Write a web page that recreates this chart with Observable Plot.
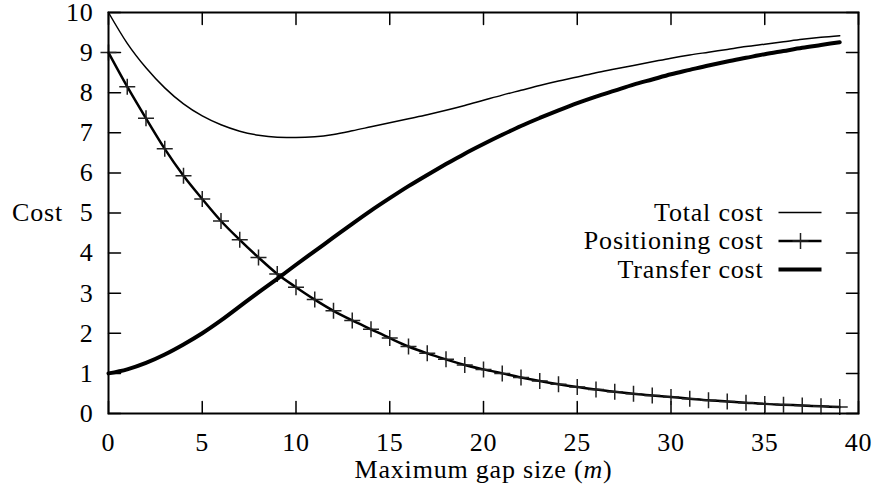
<!DOCTYPE html>
<html>
<head>
<meta charset="utf-8">
<script src="https://cdn.jsdelivr.net/npm/d3@7"></script>
<script src="https://cdn.jsdelivr.net/npm/@observablehq/plot@0.6"></script>
<style>
  html, body { margin: 0; padding: 0; background: #fff; }
  #chart svg { display: block; }
</style>
</head>
<body>
<div id="chart"></div>
<script>
// Cost model versus maximum gap size m (one sample per integer m)
const gapSize = [0, 1, 2, 3, 4, 5, 6, 7, 8, 9, 10, 11, 12, 13, 14, 15, 16, 17, 18, 19,
                 20, 21, 22, 23, 24, 25, 26, 27, 28, 29, 30, 31, 32, 33, 34, 35, 36, 37, 38, 39];
const positioningCost = [9.0, 8.15, 7.36, 6.6, 5.93, 5.35, 4.8, 4.33, 3.89, 3.48,
                         3.15, 2.84, 2.56, 2.32, 2.1, 1.88, 1.67, 1.5, 1.35, 1.21,
                         1.1, 1.0, 0.9, 0.81, 0.73, 0.66, 0.6, 0.54, 0.49, 0.45,
                         0.41, 0.37, 0.33, 0.3, 0.27, 0.24, 0.22, 0.2, 0.18, 0.16];
const transferCost = [1.0, 1.1, 1.26, 1.47, 1.72, 2.0, 2.32, 2.67, 3.02, 3.36,
                      3.71, 4.05, 4.39, 4.73, 5.06, 5.37, 5.67, 5.95, 6.22, 6.48,
                      6.72, 6.95, 7.17, 7.37, 7.56, 7.74, 7.9, 8.05, 8.2, 8.33,
                      8.46, 8.57, 8.68, 8.78, 8.87, 8.96, 9.04, 9.12, 9.19, 9.26];
const totalCost = [10.0, 9.23, 8.62, 8.12, 7.72, 7.42, 7.2, 7.04, 6.94, 6.89,
                   6.88, 6.9, 6.96, 7.05, 7.15, 7.25, 7.35, 7.45, 7.56, 7.68,
                   7.81, 7.94, 8.06, 8.18, 8.29, 8.39, 8.5, 8.59, 8.68, 8.77,
                   8.86, 8.94, 9.01, 9.08, 9.15, 9.21, 9.27, 9.33, 9.38, 9.42];
const xTicks = [0, 5, 10, 15, 20, 25, 30, 35, 40];
const yTicks = [0, 1, 2, 3, 4, 5, 6, 7, 8, 9, 10];
const seriesNames = ["Total cost", "Positioning cost", "Transfer cost"];
const xLabel = "Maximum gap size (m)";
const yLabel = "Cost";

const rows = gapSize.map((m, i) => ({
  m,
  total: totalCost[i],
  positioning: positioningCost[i],
  transfer: transferCost[i]
}));

// Thin "+" point symbol, and a plain straight stroke for ticks and key samples
const crossSymbol = {
  draw(ctx, size) {
    const r = Math.sqrt(size / Math.PI);
    ctx.moveTo(-r, 0); ctx.lineTo(r, 0);
    ctx.moveTo(0, -r); ctx.lineTo(0, r);
  }
};
const stroke = {
  draw(ctx, l) { ctx.moveTo(0, 0); ctx.lineTo(0, -l); }
};

const font = "'Liberation Serif', 'Times New Roman', serif";
const fontSize = 26;
const tickLen = 12;
const seriesWidth = [1.5, 2.5, 4];

// Key: text right-aligned, followed by a sample of each line style
const keyTop = 200, keyStep = 28.5;
const keyMarks = seriesNames.flatMap((name, i) => {
  const dy = keyTop + i * keyStep;
  const marks = [
    Plot.text([name], {frameAnchor: "top-right", dx: -95, dy, textAnchor: "end",
      lineAnchor: "middle", fontSize, fontFamily: font, fill: "#000"}),
    Plot.vector([name], {frameAnchor: "top-right", dx: -80, dy, rotate: 90, length: 43,
      anchor: "start", shape: stroke, stroke: "#000", strokeWidth: seriesWidth[i],
      strokeLinecap: "butt"})
  ];
  if (i === 1) {
    marks.push(Plot.dot([name], {frameAnchor: "top-right", dx: -58, dy, symbol: crossSymbol,
      r: 8, fill: "none", stroke: "#222", strokeWidth: 1.5}));
  }
  return marks;
});

const chart = Plot.plot({
  width: 873,
  height: 490,
  marginLeft: 108,
  marginRight: 15,
  marginTop: 12,
  marginBottom: 77,
  style: {fontFamily: font, fontSize: fontSize + "px", letterSpacing: "0.8px", color: "#000", background: "#fff"},
  x: {domain: [0, 40]},
  y: {domain: [0, 10]},
  marks: [
    // Tick labels
    Plot.axisX({ticks: xTicks, anchor: "bottom", tickSize: 0, tickPadding: 19, label: null,
      fontSize, fontFamily: font}),
    Plot.axisY({ticks: yTicks, anchor: "left", tickSize: 0, tickPadding: 15, label: null,
      fontSize, fontFamily: font}),
    // Inward ticks mirrored on all four sides
    Plot.vector(xTicks, {x: d => d, frameAnchor: "bottom", rotate: 0, length: tickLen,
      anchor: "start", shape: stroke, stroke: "#000", strokeWidth: 1.5}),
    Plot.vector(xTicks, {x: d => d, frameAnchor: "top", rotate: 180, length: tickLen,
      anchor: "start", shape: stroke, stroke: "#000", strokeWidth: 1.5}),
    Plot.vector(yTicks, {y: d => d, frameAnchor: "left", rotate: 90, length: tickLen,
      anchor: "start", shape: stroke, stroke: "#000", strokeWidth: 1.5}),
    Plot.vector(yTicks, {y: d => d, frameAnchor: "right", rotate: -90, length: tickLen,
      anchor: "start", shape: stroke, stroke: "#000", strokeWidth: 1.5}),
    // Series
    Plot.line(rows, {x: "m", y: "total", curve: "monotone-x", stroke: "#000",
      strokeWidth: seriesWidth[0]}),
    Plot.line(rows, {x: "m", y: "positioning", curve: "monotone-x", stroke: "#000",
      strokeWidth: seriesWidth[1]}),
    Plot.dot(rows, {x: "m", y: "positioning", symbol: crossSymbol, r: 8, fill: "none",
      stroke: "#222", strokeWidth: 1.5}),
    Plot.line(rows, {x: "m", y: "transfer", curve: "monotone-x", stroke: "#000",
      strokeWidth: seriesWidth[2]}),
    ...keyMarks,
    // Axis titles
    Plot.text([xLabel], {frameAnchor: "bottom", dy: 56, lineAnchor: "middle",
      textAnchor: "middle", fontSize, fontFamily: font, fill: "#000"}),
    Plot.text([yLabel], {frameAnchor: "left", dx: -71, lineAnchor: "middle",
      textAnchor: "middle", fontSize, fontFamily: font, fill: "#000"}),
    Plot.frame({stroke: "#000", strokeWidth: 2})
  ]
});

// Set the variable name m in italics within the x-axis title
d3.select(chart).selectAll("text").filter(function () {
  return this.textContent === xLabel;
}).each(function () {
  const t = d3.select(this);
  t.text(null);
  t.append("tspan").text("Maximum gap size (");
  t.append("tspan").attr("font-style", "italic").text("m");
  t.append("tspan").text(")");
});

document.getElementById("chart").appendChild(chart);
</script>
</body>
</html>
